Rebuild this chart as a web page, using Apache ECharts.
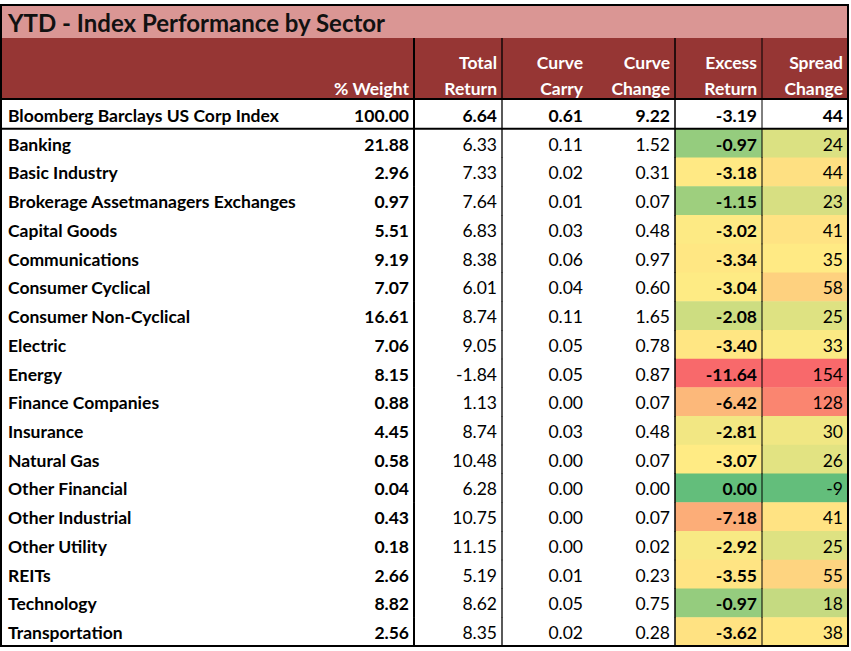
<!DOCTYPE html>
<html><head><meta charset="utf-8">
<script src="https://cdn.jsdelivr.net/npm/echarts@6/dist/echarts.min.js"></script>
<style>html,body{margin:0;padding:0;background:#fff}#c{width:851px;height:651px}</style>
</head><body><div id="c"></div>
<script>
// ---------------- data ----------------
const titleText = 'YTD - Index Performance by Sector';
const headerLabels = ['% Weight', 'Total\nReturn', 'Curve\nCarry', 'Curve\nChange', 'Excess\nReturn', 'Spread\nChange'];
const indexName = 'Bloomberg Barclays US Corp Index';
const indexValues = [100.00, 6.64, 0.61, 9.22, -3.19, 44];
const sectors = ['Banking', 'Basic Industry', 'Brokerage Assetmanagers Exchanges', 'Capital Goods',
  'Communications', 'Consumer Cyclical', 'Consumer Non-Cyclical', 'Electric', 'Energy',
  'Finance Companies', 'Insurance', 'Natural Gas', 'Other Financial', 'Other Industrial',
  'Other Utility', 'REITs', 'Technology', 'Transportation'];
const weight = [21.88, 2.96, 0.97, 5.51, 9.19, 7.07, 16.61, 7.06, 8.15, 0.88, 4.45, 0.58, 0.04, 0.43, 0.18, 2.66, 8.82, 2.56];
const totalReturn = [6.33, 7.33, 7.64, 6.83, 8.38, 6.01, 8.74, 9.05, -1.84, 1.13, 8.74, 10.48, 6.28, 10.75, 11.15, 5.19, 8.62, 8.35];
const curveCarry = [0.11, 0.02, 0.01, 0.03, 0.06, 0.04, 0.11, 0.05, 0.05, 0.00, 0.03, 0.00, 0.00, 0.00, 0.00, 0.01, 0.05, 0.02];
const curveChange = [1.52, 0.31, 0.07, 0.48, 0.97, 0.60, 1.65, 0.78, 0.87, 0.07, 0.48, 0.07, 0.00, 0.07, 0.02, 0.23, 0.75, 0.28];
const excessReturn = [-0.97, -3.18, -1.15, -3.02, -3.34, -3.04, -2.08, -3.40, -11.64, -6.42, -2.81, -3.07, 0.00, -7.18, -2.92, -3.55, -0.97, -3.62];
const spreadChange = [24, 44, 23, 41, 35, 58, 25, 33, 154, 128, 30, 26, -9, 41, 25, 55, 18, 38];

// ---------------- layout / style ----------------
const FONT = 'Lato, "Open Sans", sans-serif';
const W = 851;
const colEdges = [2, 414, 502, 588, 675, 762, 848];
const dividerWidth = { 1: 2, 2: 1.3, 4: 1.5, 5: 1 };
const PAD = 5;
const BODY_FS = 17.5, HEAD_FS = 17.5, TITLE_FS = 24;
const PINK = '#DA9694', DARK = '#963634';
const RED = '#F8696B', YELLOW = '#FFEB84', GREEN = '#63BE7B';

function hex(c) { return [1, 3, 5].map(i => parseInt(c.slice(i, i + 2), 16)); }
function mix(a, b, t) {
  const A = hex(a), B = hex(b);
  return 'rgb(' + A.map((v, i) => Math.round(v + (B[i] - v) * t)).join(',') + ')';
}
// Excel-style 3-colour scale: min / 50th percentile / max
function colorScale(values, lowC, midC, highC) {
  const s = [...values].sort((a, b) => a - b), n = s.length;
  const mid = n % 2 ? s[(n - 1) / 2] : (s[n / 2 - 1] + s[n / 2]) / 2;
  const lo = s[0], hi = s[n - 1];
  return v => v <= mid ? mix(lowC, midC, (v - lo) / (mid - lo || 1))
                       : mix(midC, highC, (v - mid) / (hi - mid || 1));
}
const excessColor = colorScale(excessReturn, RED, YELLOW, GREEN);
const spreadColor = colorScale(spreadChange, GREEN, YELLOW, RED);

const rowNames = [indexName, ...sectors];
const columns = [weight, totalReturn, curveCarry, curveChange, excessReturn, spreadChange];
const bodyData = [];
for (let r = 0; r < rowNames.length; r++)
  for (let c = 0; c < 6; c++) bodyData.push([c, r]);

function fmt(c, v) { return c === 5 ? String(v) : v.toFixed(2); }

function cellX(api, c, r) {
  return [api.coord([colEdges[c], r])[0], api.coord([colEdges[c + 1], r])[0]];
}

function renderBody(params, api) {
  const c = api.value(0), r = api.value(1);
  const [x0, x1] = cellX(api, c, r);
  const cy = api.coord([0, r])[1];
  const h = api.size([0, 1])[1];
  const ty = cy + 1;
  const isIndex = r === 0;
  const v = isIndex ? indexValues[c] : columns[c][r - 1];
  let fill = '#fff';
  if (!isIndex && c === 4) fill = excessColor(v);
  if (!isIndex && c === 5) fill = spreadColor(v);
  const bold = isIndex || c === 0 || c === 4;
  const children = [
    { type: 'rect', shape: { x: x0, y: cy - h / 2, width: x1 - x0, height: h + 0.5 }, style: { fill } },
    { type: 'text', style: { text: fmt(c, v), x: x1 - PAD, y: ty, align: 'right', verticalAlign: 'middle',
        fontFamily: FONT, fontSize: BODY_FS, fontWeight: bold ? 'bold' : 'normal', fill: '#000' } }
  ];
  if (c === 0) children.push({ type: 'text', style: { text: rowNames[r], x: x0 + 6, y: ty, align: 'left',
      verticalAlign: 'middle', fontFamily: FONT, fontSize: BODY_FS, fontWeight: 'bold', fill: '#000' } });
  if (dividerWidth[c]) children.push({ type: 'line', z2: 10,
      shape: { x1: x0, y1: cy - h / 2, x2: x0, y2: cy + h / 2 + 0.5 }, style: { stroke: '#000', lineWidth: dividerWidth[c] } });
  if (isIndex) children.push({ type: 'line', z2: 10,
      shape: { x1: x0, y1: cy + h / 2, x2: x1, y2: cy + h / 2 }, style: { stroke: '#000', lineWidth: 2 } });
  return { type: 'group', children };
}

function renderHeader(params, api) {
  const c = api.value(0);
  const [x0, x1] = cellX(api, c, 0);
  const cy = api.coord([0, 0])[1];
  const h = api.size([0, 1])[1];
  const children = [
    { type: 'rect', shape: { x: x0, y: cy - h / 2, width: x1 - x0, height: h }, style: { fill: DARK } },
    { type: 'text', style: { text: headerLabels[c], x: x1 - PAD, y: cy + h / 2 + 2, align: 'right',
        verticalAlign: 'bottom', lineHeight: 26, fontFamily: FONT, fontSize: HEAD_FS, fontWeight: 'bold', fill: '#fff' } },
    { type: 'line', z2: 10, shape: { x1: x0, y1: cy + h / 2, x2: x1, y2: cy + h / 2 }, style: { stroke: '#000', lineWidth: 2 } }
  ];
  if (dividerWidth[c]) children.push({ type: 'line', z2: 10,
      shape: { x1: x0, y1: cy - h / 2, x2: x0, y2: cy + h / 2 }, style: { stroke: '#000', lineWidth: dividerWidth[c] } });
  return { type: 'group', children };
}

function renderTitle(params, api) {
  const [x0, x1] = [api.coord([colEdges[0], 0])[0], api.coord([colEdges[6], 0])[0]];
  const cy = api.coord([0, 0])[1];
  const h = api.size([0, 1])[1];
  return { type: 'group', children: [
    { type: 'rect', shape: { x: x0, y: cy - h / 2, width: x1 - x0, height: h }, style: { fill: PINK } },
    { type: 'text', style: { text: titleText, x: x0 + 6, y: cy, align: 'left', verticalAlign: 'middle',
        fontFamily: FONT, fontSize: TITLE_FS, fontWeight: 'bold', fill: '#111' } }
  ] };
}

const xAx = i => ({ type: 'value', gridIndex: i, min: 0, max: W, show: false });
const chart = echarts.init(document.getElementById('c'), null, { renderer: 'svg' });
chart.setOption({
  animation: false,
  backgroundColor: '#fff',
  grid: [
    { left: 0, width: W, top: 6, height: 32 },
    { left: 0, width: W, top: 38, height: 61 },
    { left: 0, width: W, top: 100, height: 546 }
  ],
  xAxis: [xAx(0), xAx(1), xAx(2)],
  yAxis: [
    { type: 'category', gridIndex: 0, data: ['title'], show: false },
    { type: 'category', gridIndex: 1, data: ['header'], show: false },
    { type: 'category', gridIndex: 2, data: rowNames, inverse: true, show: false }
  ],
  series: [
    { type: 'custom', xAxisIndex: 0, yAxisIndex: 0, data: [[0, 0]], renderItem: renderTitle, clip: false },
    { type: 'custom', xAxisIndex: 1, yAxisIndex: 1, data: [0, 1, 2, 3, 4, 5].map(c => [c, 0]), renderItem: renderHeader, clip: false },
    { type: 'custom', xAxisIndex: 2, yAxisIndex: 2, data: bodyData, renderItem: renderBody, clip: false }
  ],
  graphic: [
    { type: 'rect', z: 100, shape: { x: 1, y: 5, width: 847, height: 641 }, style: { fill: 'none', stroke: '#000', lineWidth: 2 } }
  ]
});
</script></body></html>
